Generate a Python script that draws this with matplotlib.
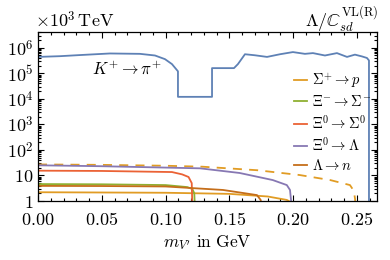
import numpy as np
import matplotlib
matplotlib.use("Agg")
import matplotlib.pyplot as plt
from matplotlib.ticker import FixedLocator, LogLocator, MultipleLocator, FuncFormatter, NullFormatter

plt.rcParams['mathtext.fontset'] = 'cm'
plt.rcParams['font.family'] = ['DejaVu Serif']

# K+ -> pi+ limit
k_x = [0, 0.0172, 0.0329, 0.0564, 0.0799, 0.0917, 0.0995, 0.105, 0.1097, 0.1097,
       0.1364, 0.1364, 0.1536, 0.1567, 0.1622, 0.170, 0.1795, 0.1897, 0.1998,
       0.2092, 0.2155, 0.2249, 0.2343, 0.2422, 0.2484, 0.2539, 0.2578, 0.2594, 0.2594]
k_y = [4.4e5, 4.7e5, 5.2e5, 6.0e5, 5.8e5, 5.0e5, 3.6e5, 2.3e5, 1.2e5, 1.2e4,
       1.2e4, 1.6e5, 1.6e5, 2.3e5, 5.6e5, 5.1e5, 4.4e5, 5.6e5, 6.8e5,
       5.8e5, 6.2e5, 5.0e5, 6.2e5, 4.4e5, 5.4e5, 4.6e5, 4.0e5, 3.2e5, 0.1]

# hyperon channels
sp_x = [0, 0.05, 0.10, 0.129, 0.172, 0.205, 0.229, 0.2445, 0.2475, 0.2485, 0.249]
sp_y = [27, 26, 24, 22, 16, 10.4, 6.6, 4.2, 2.5, 1.2, 0.5]
sp2_x = [0, 0.1, 0.15, 0.18, 0.195, 0.2]
sp2_y = [2.2, 2.1, 1.9, 1.5, 1.1, 0.8]
xs_x = [0, 0.05, 0.1, 0.117, 0.121, 0.1225, 0.123]
xs_y = [4.6, 4.5, 4.2, 3.5, 2.95, 2.0, 0.5]
x0s_x = [0, 0.05, 0.105, 0.113, 0.118, 0.1205, 0.121]
x0s_y = [15.4, 15.0, 13.6, 11.0, 8.7, 5.0, 0.5]
x0l_x = [0, 0.05, 0.127, 0.158, 0.184, 0.195, 0.1975, 0.199]
x0l_y = [25, 23, 19, 12.5, 6.6, 4.2, 2.7, 0.5]
ln_x = [0, 0.05, 0.1, 0.145, 0.1716, 0.1745, 0.1755]
ln_y = [3.9, 3.85, 3.7, 2.7, 1.7, 1.1, 0.5]

labels = [r'$\Sigma^{+}\to p$', r'$\Xi^{-}\to\Sigma^{-}$', r'$\Xi^{0}\to\Sigma^{0}$',
          r'$\Xi^{0}\to\Lambda$', r'$\Lambda\to n$']
colors = ['#E19C24', '#8FB032', '#EB6235', '#8778B3', '#C56E1A']
blue = '#5E81B5'

fig = plt.figure(figsize=(3.9, 2.6), dpi=100)
ax = fig.add_axes([0.0974, 0.227, 0.8693, 0.65])

ax.plot(k_x, k_y, color=blue, lw=1.3)
ax.plot(sp_x, sp_y, color=colors[0], lw=1.3, ls=(0, (5, 4)))
ax.plot(sp2_x, sp2_y, color=colors[0], lw=1.3, label=labels[0])
ax.plot(xs_x, xs_y, color=colors[1], lw=1.3, label=labels[1])
ax.plot(x0s_x, x0s_y, color=colors[2], lw=1.3, label=labels[2])
ax.plot(x0l_x, x0l_y, color=colors[3], lw=1.3, label=labels[3])
ax.plot(ln_x, ln_y, color=colors[4], lw=1.3, label=labels[4])

ax.set_yscale('log')
ax.set_xlim(0, 0.2657)
ax.set_ylim(1, 10**6.62)

ax.yaxis.set_major_locator(FixedLocator([1, 10, 1e2, 1e3, 1e4, 1e5, 1e6]))
ax.set_yticklabels([r'$1$', r'$10$', r'$10^{2}$', r'$10^{3}$', r'$10^{4}$',
                    r'$10^{5}$', r'$10^{6}$'])
ax.yaxis.set_minor_locator(LogLocator(base=10, subs=np.arange(2, 10), numticks=20))
ax.yaxis.set_minor_formatter(NullFormatter())
ax.xaxis.set_major_locator(MultipleLocator(0.05))
ax.xaxis.set_minor_locator(MultipleLocator(0.01))
ax.xaxis.set_major_formatter(FuncFormatter(lambda v, p: r'$%.2f$' % v))

ax.tick_params(which='both', direction='in', top=True, right=True, labelsize=13, width=0.8)
ax.tick_params(which='major', length=4)
ax.tick_params(which='minor', length=2)
ax.tick_params(axis='x', which='major', pad=7)
ax.tick_params(axis='y', which='major', pad=3)
for s in ax.spines.values():
    s.set_linewidth(0.9)

ax.text(0.042, 0.95e5, r'$K^{+}\to\pi^{+}$', fontsize=12)
ax.set_xlabel(r"$m_{V^\prime}\ \mathrm{in\ GeV}$", fontsize=12.5, labelpad=3)
fig.text(0.09, 0.895, r'$\times 10^{3}\,\mathrm{TeV}$', fontsize=13)
fig.text(0.97, 0.895, r'$\Lambda/\mathbb{C}_{sd}^{\mathrm{VL(R)}}$', fontsize=13, ha='right')

ax.legend(loc='upper right', bbox_to_anchor=(1.01, 0.82), frameon=False, fontsize=10.5,
          handlelength=0.9, handletextpad=0.4, labelspacing=0.3, borderaxespad=0.2)

fig.savefig('out.png', dpi=100)
